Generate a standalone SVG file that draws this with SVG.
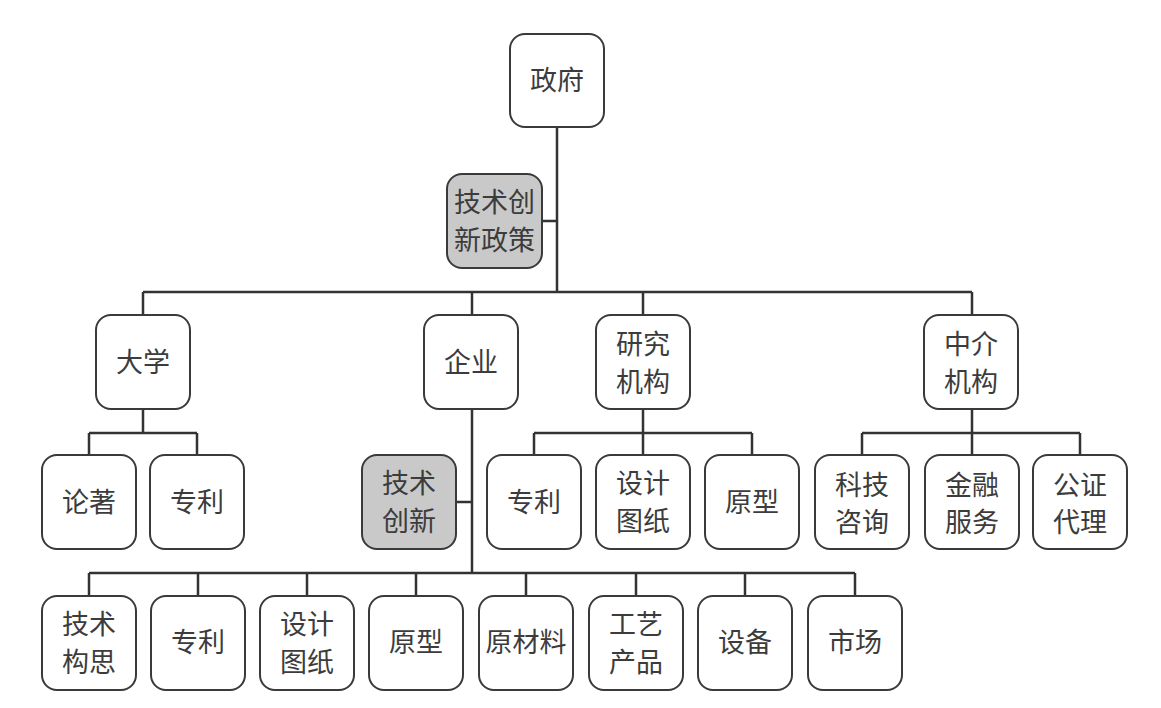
<svg xmlns="http://www.w3.org/2000/svg" width="1161" height="708" viewBox="0 0 1161 708">
<style>
.b{fill:#fff;stroke:#3a3a3a;stroke-width:2}
.g{fill:#c9c9c9;stroke:#3a3a3a;stroke-width:2}
.t{font-family:"Noto Sans CJK SC","Noto Sans",sans-serif;font-size:27px;fill:#3c3c3c;text-anchor:middle}
.c{fill:none;stroke:#333;stroke-width:2.5}
</style>
<rect width="1161" height="708" fill="#fff"/>
<g id="connectors" class="c">
<path d="M557,127V292M542,221H557M143,292H972M143,292V315M472,292V315M643,292V315M972,292V315"/>
<path d="M143,409V433M89,433H197M89,433V455M197,433V455"/>
<path d="M643,409V433M534,433H752M534,433V455M643,433V455M752,433V455"/>
<path d="M972,409V433M862,433H1080M862,433V455M972,433V455M1080,433V455"/>
<path d="M472,409V573M456,502H472M89,573H855M89,573V596M198,573V596M307,573V596M416,573V596M526,573V596M636,573V596M745,573V596M855,573V596"/>
</g>
<g id="n_gov"><rect class="b" x="510" y="34" width="94" height="93" rx="15"/><text class="t" x="557" y="90">政府</text></g>
<g id="n_policy"><rect class="g" x="447" y="174" width="95" height="94" rx="15"/><text class="t" x="494.5" y="212">技术创</text><text class="t" x="494.5" y="250">新政策</text></g>
<g id="n_univ"><rect class="b" x="96" y="315" width="94" height="94" rx="15"/><text class="t" x="143" y="372">大学</text></g>
<g id="n_ent"><rect class="b" x="424" y="315" width="94" height="94" rx="15"/><text class="t" x="471" y="372">企业</text></g>
<g id="n_res"><rect class="b" x="596" y="315" width="94" height="94" rx="15"/><text class="t" x="643" y="354">研究</text><text class="t" x="643" y="392">机构</text></g>
<g id="n_inter"><rect class="b" x="924" y="315" width="94" height="94" rx="15"/><text class="t" x="971" y="354">中介</text><text class="t" x="971" y="392">机构</text></g>
<g id="n_lunzhu"><rect class="b" x="42" y="455" width="94" height="94" rx="15"/><text class="t" x="89" y="512">论著</text></g>
<g id="n_zl1"><rect class="b" x="150" y="455" width="94" height="94" rx="15"/><text class="t" x="197" y="512">专利</text></g>
<g id="n_innov"><rect class="g" x="362" y="455" width="94" height="94" rx="15"/><text class="t" x="409" y="493">技术</text><text class="t" x="409" y="531">创新</text></g>
<g id="n_zl2"><rect class="b" x="487" y="455" width="94" height="94" rx="15"/><text class="t" x="534" y="512">专利</text></g>
<g id="n_sj1"><rect class="b" x="596" y="455" width="94" height="94" rx="15"/><text class="t" x="643" y="493">设计</text><text class="t" x="643" y="531">图纸</text></g>
<g id="n_yx1"><rect class="b" x="705" y="455" width="94" height="94" rx="15"/><text class="t" x="752" y="512">原型</text></g>
<g id="n_kj"><rect class="b" x="815" y="455" width="94" height="94" rx="15"/><text class="t" x="862" y="495">科技</text><text class="t" x="862" y="532">咨询</text></g>
<g id="n_jr"><rect class="b" x="925" y="455" width="94" height="94" rx="15"/><text class="t" x="972" y="495">金融</text><text class="t" x="972" y="532">服务</text></g>
<g id="n_gz"><rect class="b" x="1033" y="455" width="94" height="94" rx="15"/><text class="t" x="1080" y="495">公证</text><text class="t" x="1080" y="532">代理</text></g>
<g id="n_jsgs"><rect class="b" x="42" y="596" width="94" height="94" rx="15"/><text class="t" x="89" y="634">技术</text><text class="t" x="89" y="672">构思</text></g>
<g id="n_zl3"><rect class="b" x="151" y="596" width="94" height="94" rx="15"/><text class="t" x="198" y="652">专利</text></g>
<g id="n_sj2"><rect class="b" x="260" y="596" width="94" height="94" rx="15"/><text class="t" x="307" y="634">设计</text><text class="t" x="307" y="672">图纸</text></g>
<g id="n_yx2"><rect class="b" x="369" y="596" width="94" height="94" rx="15"/><text class="t" x="416" y="652">原型</text></g>
<g id="n_ycl"><rect class="b" x="479" y="596" width="94" height="94" rx="15"/><text class="t" x="526" y="652">原材料</text></g>
<g id="n_gy"><rect class="b" x="589" y="596" width="94" height="94" rx="15"/><text class="t" x="636" y="634">工艺</text><text class="t" x="636" y="672">产品</text></g>
<g id="n_sb"><rect class="b" x="698" y="596" width="94" height="94" rx="15"/><text class="t" x="745" y="652">设备</text></g>
<g id="n_sc"><rect class="b" x="808" y="596" width="94" height="94" rx="15"/><text class="t" x="855" y="652">市场</text></g>
</svg>
